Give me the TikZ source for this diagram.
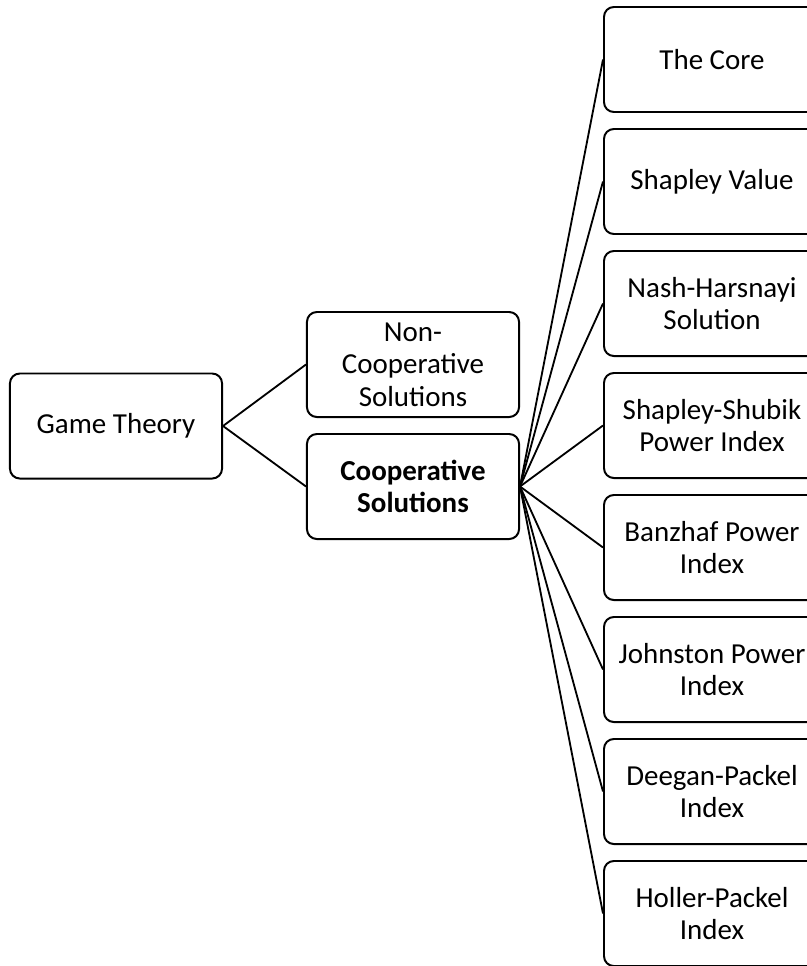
\documentclass[tikz,border=0pt]{standalone}
\usepackage{fontspec}
\setmainfont{Carlito}

\begin{document}
\begin{tikzpicture}[x=0.025cm, y=-0.025cm,
    box/.style={draw=black, line width=1.4pt, rounded corners=7pt, minimum width=5.3cm, minimum height=2.625cm,
      align=center, inner sep=2pt, font=\fontsize{20.6}{23}\selectfont},
    leaf/.style={box, minimum width=5.4cm, anchor=west},
    link/.style={line width=1.3pt}]
  \useasboundingbox (0,0) rectangle (807,966);
  \clip (0,0) rectangle (807,966);
  \node[box] (game) at (116,426) {Game Theory};
  \node[box] (noncoop) at (413,364.5) {Non-\\Cooperative\\Solutions};
  \node[box, font=\fontsize{20.6}{23}\selectfont\bfseries] (coop) at (413,486.5) {Cooperative\\Solutions};
  \draw[link] (game.east) -- (noncoop.west);
  \draw[link] (game.east) -- (coop.west);
  \foreach \n/\t [count=\i from 0] in {core/The Core, shapley/Shapley Value,
      nash/{Nash-Harsnayi\\Solution}, shubik/{Shapley-Shubik\\Power Index},
      banzhaf/{Banzhaf Power\\Index}, johnston/{Johnston Power\\Index},
      deegan/{Deegan-Packel\\Index}, holler/{Holler-Packel\\Index}} {
    \node[leaf] (\n) at (603,{59.5+122*\i}) {\t};
    \draw[link] (coop.east) -- (\n.west);
  }
\end{tikzpicture}
\end{document}
